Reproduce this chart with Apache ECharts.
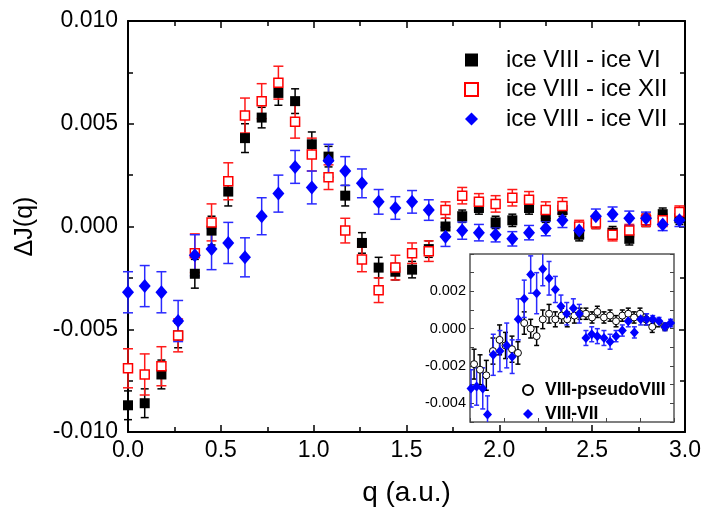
<!DOCTYPE html>
<html>
<head>
<meta charset="utf-8">
<script src="https://cdn.jsdelivr.net/npm/echarts@6.0.0/dist/echarts.min.js"></script>
<style>
html, body { margin: 0; padding: 0; background: #fff; }
#container { width: 708px; height: 519px; }
</style>
</head>
<body>
<div id="container"></div>
<script>
// main panel: q grid shared by the three difference curves
var q = [0.00, 0.09, 0.18, 0.27, 0.36, 0.45, 0.54, 0.63, 0.72, 0.81, 0.90, 0.99, 1.08, 1.17, 1.26, 1.35, 1.44,
         1.53, 1.62, 1.71, 1.80, 1.89, 1.98, 2.07, 2.16, 2.25, 2.34, 2.43, 2.52, 2.61, 2.70, 2.79, 2.88, 2.97];

var viVal = [-0.0087, -0.0086, -0.0072, -0.0053, -0.0023, -0.0002, 0.0017, 0.0043, 0.0053, 0.0065, 0.0061, 0.0040,
             0.0034, 0.0015, -0.0008, -0.0020, -0.0022, -0.0021, -0.0011, 0.0000, 0.0005, 0.0009, 0.0002, 0.0003,
             0.0009, 0.0005, 0.0008, -0.0004, 0.0002, -0.0003, -0.0006, 0.0003, 0.0006, 0.0004];
var viErr = [0.0007, 0.0007, 0.0007, 0.0006, 0.0007, 0.0007, 0.0007, 0.0007, 0.0005, 0.0006, 0.0006, 0.0006,
             0.0005, 0.0005, 0.0005, 0.0005, 0.0004, 0.0004, 0.0004, 0.0004, 0.0003, 0.0003, 0.0003, 0.0003,
             0.0003, 0.0003, 0.0003, 0.0003, 0.0003, 0.0003, 0.0003, 0.0003, 0.0003, 0.0003];

var xiiVal = [-0.0069, -0.0072, -0.0068, -0.0053, -0.0013, 0.0002, 0.0022, 0.0054, 0.0061, 0.0070, 0.0051, 0.0035,
              0.0024, -0.0002, -0.0016, -0.0031, -0.0020, -0.0013, -0.0012, 0.0008, 0.0015, 0.0012, 0.0011, 0.0014,
              0.0013, 0.0008, 0.0010, 0.0000, 0.0002, -0.0004, -0.0002, 0.0003, 0.0003, 0.0007];
var xiiErr = [0.00095, 0.001, 0.00095, 0.0008, 0.00094, 0.0009, 0.0009, 0.00085, 0.00085, 0.0008, 0.0008, 0.0008,
              0.0006, 0.0006, 0.0006, 0.0006, 0.0006, 0.0005, 0.0005, 0.0004, 0.0004, 0.0004, 0.0004, 0.0004,
              0.0004, 0.0004, 0.0004, 0.0003, 0.0003, 0.0003, 0.0003, 0.0003, 0.0003, 0.0003];

var viiVal = [-0.0032, -0.0029, -0.0032, -0.0046, -0.0014, -0.0011, -0.0008, -0.0015, 0.0005, 0.0016, 0.0029, 0.0019,
              0.0032, 0.0027, 0.0021, 0.0012, 0.0009, 0.0012, 0.0008, -0.0005, -0.0002, -0.0003, -0.0004, -0.0006,
              -0.0003, -0.0001, 0.0003, -0.0002, 0.0005, 0.0006, 0.0004, 0.0004, 0.0001, 0.0003];
var viiErr = [0.001, 0.001, 0.001, 0.001, 0.001, 0.001, 0.001, 0.00095, 0.0009, 0.0009, 0.0008, 0.0008,
              0.0008, 0.0007, 0.0007, 0.0006, 0.00055, 0.00055, 0.0005, 0.00047, 0.00042, 0.0004, 0.00035, 0.00035,
              0.00035, 0.00035, 0.00035, 0.00035, 0.00035, 0.00035, 0.00035, 0.0003, 0.0003, 0.0003];

// inset
var pseudoQ = [1.824, 1.859, 1.896, 1.935, 1.974, 2.009, 2.047, 2.082, 2.119, 2.157, 2.192, 2.228, 2.265, 2.302,
               2.339, 2.372, 2.414, 2.447, 2.482, 2.518, 2.549, 2.588, 2.624, 2.659, 2.696, 2.731, 2.765, 2.800,
               2.835, 2.872, 2.906, 2.947];
var pseudoVal = [-0.0019, -0.0022, -0.0025, -0.0012, -0.0006, -0.0009, -0.0011, -0.0013, 0.0003, 0.0000, -0.0004,
                 0.0005, 0.0008, 0.0005, 0.0007, 0.0005, 0.0007, 0.0008, 0.0008, 0.0006, 0.0009, 0.0006, 0.0007,
                 0.0004, 0.0007, 0.0008, 0.0006, 0.0008, 0.0005, 0.0001, 0.0003, 0.0001];
var pseudoErr = [0.0008, 0.0008, 0.0008, 0.0007, 0.0008, 0.0007, 0.0007, 0.0006, 0.0006, 0.0005, 0.0005, 0.0005,
                 0.0005, 0.0004, 0.0004, 0.0004, 0.0004, 0.0003, 0.0003, 0.0003, 0.0003, 0.0003, 0.0003, 0.0003,
                 0.0003, 0.0003, 0.0003, 0.0003, 0.0003, 0.0003, 0.0002, 0.0002];

var insetQ = [1.806, 1.839, 1.875, 1.903, 1.937, 1.976, 2.016, 2.048, 2.084, 2.119, 2.157, 2.192, 2.228, 2.265,
              2.302, 2.335, 2.369, 2.408, 2.443, 2.482, 2.516, 2.549, 2.588, 2.624, 2.659, 2.696, 2.731, 2.767,
              2.804, 2.839, 2.875, 2.912, 2.947, 2.980];
var insetVal = [-0.0032, -0.0031, -0.0032, -0.0046, -0.0014, -0.0012, -0.0009, -0.0015, 0.0005, 0.0016, 0.0029,
                0.0019, 0.0032, 0.0027, 0.0021, 0.0012, 0.0008, 0.0011, 0.0008, -0.0005, -0.0003, -0.0004, -0.0005,
                -0.0007, -0.0004, -0.0001, 0.0004, -0.0002, 0.0005, 0.0005, 0.0005, 0.0004, 0.0001, 0.0003];
var insetErr = [0.0010, 0.0010, 0.0011, 0.0010, 0.0011, 0.0011, 0.0012, 0.0009, 0.0011, 0.0010, 0.0010, 0.0011,
                0.0009, 0.0009, 0.0007, 0.0006, 0.0006, 0.0005, 0.0005, 0.0004, 0.0004, 0.0004, 0.0004, 0.0004,
                0.0003, 0.0003, 0.0003, 0.0003, 0.0003, 0.0003, 0.0002, 0.0002, 0.0002, 0.0002];

var FONT = '"Liberation Sans", Arial, sans-serif';

function pts(xs, ys, es) {
    var out = [];
    for (var i = 0; i < xs.length; i++) out.push(es ? [xs[i], ys[i], es[i]] : [xs[i], ys[i]]);
    return out;
}

function errBar(color, cap) {
    return function (params, api) {
        var x = api.value(0), y = api.value(1), e = api.value(2);
        var a = api.coord([x, y + e]), b = api.coord([x, y - e]);
        var st = { stroke: color, lineWidth: 1.5 };
        return {
            type: 'group',
            children: [
                { type: 'line', shape: { x1: a[0], y1: a[1], x2: b[0], y2: b[1] }, style: st },
                { type: 'line', shape: { x1: a[0] - cap, y1: a[1], x2: a[0] + cap, y2: a[1] }, style: st },
                { type: 'line', shape: { x1: b[0] - cap, y1: b[1], x2: b[0] + cap, y2: b[1] }, style: st }
            ]
        };
    };
}

var dom = document.getElementById("container");
var myChart = echarts.init(dom);

var mainTick = { inside: true, length: 7, lineStyle: { color: '#000', width: 1.5 } };
var mainMinor = { show: true, splitNumber: 2, length: 5, lineStyle: { color: '#000', width: 1.5 } };
var mainLine = { show: true, onZero: false, lineStyle: { color: '#000', width: 2 } };
var insetTick = { inside: true, length: 4, lineStyle: { color: '#444', width: 1 } };

option = {
    animation: false,
    backgroundColor: '#fff',
    textStyle: { fontFamily: FONT },
    grid: [
        { left: 128, top: 21, width: 557, height: 411 },
        { left: 470, top: 254, width: 204, height: 168, show: true, backgroundColor: '#fff',
          borderColor: '#555', borderWidth: 1.5, z: 5 }
    ],
    legend: [
        {
            data: ['ice VIII - ice VI', 'ice VIII - ice XII', 'ice VIII - ice VII'],
            orient: 'vertical', left: 459, top: 43,
            itemWidth: 13, itemHeight: 13, itemGap: 5.5,
            selectedMode: false,
            textStyle: { fontFamily: FONT, fontSize: 24, color: '#000', lineHeight: 24, padding: [0, 0, 0, 23] }
        },
        {
            data: ['VIII-pseudoVIII', 'VIII-VII'],
            orient: 'vertical', left: 517, top: 376, z: 8,
            itemWidth: 10, itemHeight: 10, itemGap: 6,
            selectedMode: false,
            textStyle: { fontFamily: FONT, fontSize: 17.5, fontWeight: 'bold', color: '#000', lineHeight: 18, padding: [0, 0, 0, 7] }
        }
    ],
    xAxis: [
        {
            type: 'value', gridIndex: 0, position: 'bottom', min: 0, max: 3, interval: 0.5,
            axisLine: mainLine, axisTick: mainTick, minorTick: mainMinor, splitLine: { show: false },
            axisLabel: { fontFamily: FONT, fontSize: 23, color: '#000', margin: 7, showMinLabel: true, showMaxLabel: true,
                         formatter: function (v) { return v.toFixed(1); } },
            name: 'q (a.u.)', nameLocation: 'middle', nameGap: 47,
            nameTextStyle: { fontFamily: FONT, fontSize: 28, color: '#000' }
        },
        {
            type: 'value', gridIndex: 0, position: 'top', min: 0, max: 3, interval: 0.5,
            axisLine: mainLine, axisTick: mainTick, minorTick: mainMinor, splitLine: { show: false },
            axisLabel: { show: false }
        },
        {
            type: 'value', gridIndex: 1, position: 'bottom', min: 1.8, max: 3.0, interval: 0.2, z: 6,
            axisLine: { show: false, onZero: false }, axisTick: insetTick, splitLine: { show: false },
            axisLabel: { show: false }
        }
    ],
    yAxis: [
        {
            type: 'value', gridIndex: 0, position: 'left', min: -0.01, max: 0.01, interval: 0.005,
            axisLine: mainLine, axisTick: { inside: true, length: 6, lineStyle: { color: '#000', width: 1.5 } },
            minorTick: mainMinor, splitLine: { show: false },
            axisLabel: { fontFamily: FONT, fontSize: 23, color: '#000', margin: 10, showMinLabel: true, showMaxLabel: true,
                         formatter: function (v) { return v.toFixed(3); } },
            name: 'ΔJ(q)', nameLocation: 'middle', nameGap: 90,
            nameTextStyle: { fontFamily: FONT, fontSize: 25, color: '#000' }
        },
        {
            type: 'value', gridIndex: 0, position: 'right', min: -0.01, max: 0.01, interval: 0.005,
            axisLine: mainLine, axisTick: { inside: true, length: 6, lineStyle: { color: '#000', width: 1.5 } },
            minorTick: mainMinor, splitLine: { show: false },
            axisLabel: { show: false }
        },
        {
            type: 'value', gridIndex: 1, position: 'left', min: -0.005, max: 0.004, interval: 0.001, z: 6,
            axisLine: { show: false, onZero: false }, axisTick: insetTick, splitLine: { show: false },
            axisLabel: {
                fontFamily: FONT, fontSize: 14.5, color: '#000', margin: 4, showMinLabel: true, showMaxLabel: true,
                formatter: function (v) {
                    var k = Math.round(v * 1000);
                    if (k % 2 !== 0 || k > 2 || k < -4) return '';
                    return (k / 1000).toFixed(3);
                }
            }
        },
        {
            type: 'value', gridIndex: 1, position: 'right', min: -0.005, max: 0.004, interval: 0.001, z: 6,
            axisLine: { show: false, onZero: false }, axisTick: insetTick, splitLine: { show: false },
            axisLabel: { show: false }
        }
    ],
    series: [
        { name: 'errVI', type: 'custom', xAxisIndex: 0, yAxisIndex: 0, encode: { x: 0, y: 1 },
          renderItem: errBar('#000', 4), data: pts(q, viVal, viErr), silent: true },
        { name: 'ice VIII - ice VI', type: 'scatter', xAxisIndex: 0, yAxisIndex: 0,
          symbol: 'rect', symbolSize: 10, itemStyle: { color: '#000', opacity: 1 },
          data: pts(q, viVal), emphasis: { disabled: true } },
        { name: 'errXII', type: 'custom', xAxisIndex: 0, yAxisIndex: 0, encode: { x: 0, y: 1 },
          renderItem: errBar('#ff1a1a', 5), data: pts(q, xiiVal, xiiErr), silent: true },
        { name: 'ice VIII - ice XII', type: 'scatter', xAxisIndex: 0, yAxisIndex: 0,
          symbol: 'rect', symbolSize: 9, itemStyle: { color: '#fff', borderColor: '#ff0000', borderWidth: 1.5, opacity: 1 },
          data: pts(q, xiiVal), emphasis: { disabled: true } },
        { name: 'errVII', type: 'custom', xAxisIndex: 0, yAxisIndex: 0, encode: { x: 0, y: 1 },
          renderItem: errBar('#2a2aff', 5), data: pts(q, viiVal, viiErr), silent: true },
        { name: 'ice VIII - ice VII', type: 'scatter', xAxisIndex: 0, yAxisIndex: 0,
          symbol: 'diamond', symbolSize: [12, 14], itemStyle: { color: '#0000ff', opacity: 1 },
          data: pts(q, viiVal), emphasis: { disabled: true } },

        { name: 'errPseudo', type: 'custom', xAxisIndex: 2, yAxisIndex: 2, encode: { x: 0, y: 1 }, z: 7, clip: true,
          renderItem: errBar('#000', 2.5), data: pts(pseudoQ, pseudoVal, pseudoErr), silent: true },
        { name: 'VIII-pseudoVIII', type: 'scatter', xAxisIndex: 2, yAxisIndex: 2, z: 7,
          symbol: 'circle', symbolSize: 7, itemStyle: { color: '#fff', borderColor: '#000', borderWidth: 1, opacity: 1 },
          data: pts(pseudoQ, pseudoVal), emphasis: { disabled: true } },
        { name: 'errInset', type: 'custom', xAxisIndex: 2, yAxisIndex: 2, encode: { x: 0, y: 1 }, z: 7, clip: true,
          renderItem: errBar('#2a2aff', 2.5), data: pts(insetQ, insetVal, insetErr), silent: true },
        { name: 'VIII-VII', type: 'scatter', xAxisIndex: 2, yAxisIndex: 2, z: 7,
          symbol: 'diamond', symbolSize: [9, 10], itemStyle: { color: '#0000ff', opacity: 1 },
          data: pts(insetQ, insetVal), emphasis: { disabled: true } }
    ]
};

if (option && typeof option === "object") {
    myChart.setOption(option, true);
}
</script>
</body>
</html>
